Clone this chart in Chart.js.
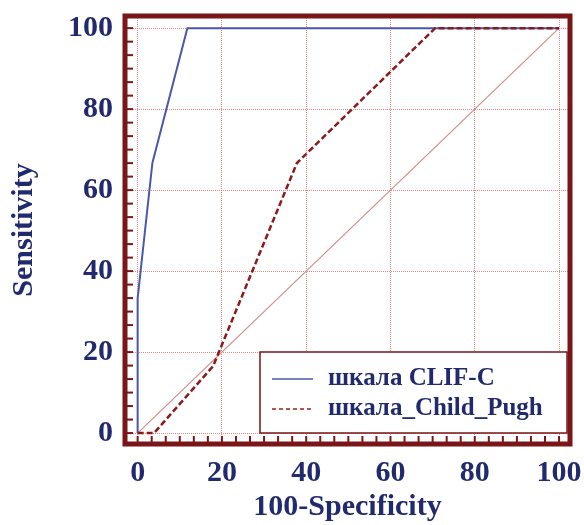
<!DOCTYPE html>
<html>
<head>
<meta charset="utf-8">
<script src="https://cdn.jsdelivr.net/npm/chart.js@4/dist/chart.umd.min.js"></script>
<style>
  body { margin: 0; background: #fff; }
  #wrap { width: 584px; height: 525px; }
</style>
</head>
<body>
<div id="wrap"><canvas id="rocChart" width="584" height="525"></canvas></div>
<script>
// data
const clifX = [0, 0, 3.5, 11.8, 100]
const clifY = [0, 33.3, 66.7, 100, 100]
const childX = [0, 3.9, 17.9, 37.8, 70.6, 100]
const childY = [0, 0, 16.5, 66.7, 100, 100]
const diagX = [0, 100]
const diagY = [0, 100]
const xTicks = [0, 20, 40, 60, 80, 100]
const yTicks = [0, 20, 40, 60, 80, 100]
const labels = ['шкала CLIF-C', 'шкала_Child_Pugh']

const navy = '#222a6e'
const frameRed = '#7a1518'
const gridRed = 'rgba(230,80,80,0.7)'
const font = "'Liberation Serif', 'Times New Roman', serif"

function pts(xs, ys) {
    let out = []
    for (let i = 0; i < xs.length; i++) out.push({ x: xs[i], y: ys[i] })
    return out
}

// thick frame + small inward ticks on left and bottom
const framePlugin = {
    id: 'frame',
    afterDraw(chart) {
        const { ctx, chartArea: a } = chart
        const xs = chart.scales.x, ys = chart.scales.y
        ctx.save()
        ctx.strokeStyle = frameRed
        ctx.lineWidth = 2
        for (let k = 0; k <= 30; k++) {
            const v = k * 10 / 3
            const px = xs.getPixelForValue(v)
            ctx.beginPath(); ctx.moveTo(px, a.bottom); ctx.lineTo(px, a.bottom - 8); ctx.stroke()
            const py = ys.getPixelForValue(v)
            ctx.beginPath(); ctx.moveTo(a.left, py); ctx.lineTo(a.left + 8, py); ctx.stroke()
        }
        ctx.lineWidth = 5
        ctx.strokeRect(a.left, a.top, a.right - a.left, a.bottom - a.top)
        ctx.restore()
    }
}

// boxed legend in the lower right corner of the plot
const boxLegend = {
    id: 'boxLegend',
    afterDatasetsDraw(chart) {
        const { ctx, chartArea: a } = chart
        const bx = a.left + 135, by = a.bottom - 92, bw = a.right - 3 - bx, bh = 81
        ctx.save()
        ctx.fillStyle = '#fff'
        ctx.fillRect(bx, by, bw, bh)
        ctx.strokeStyle = frameRed
        ctx.lineWidth = 1.5
        ctx.strokeRect(bx, by, bw, bh)
        const rows = [
            { color: '#4b57a8', dash: [], y: by + 27 },
            { color: '#a01c1c', dash: [4, 3], y: by + 57 }
        ]
        rows.forEach((r, i) => {
            ctx.strokeStyle = r.color
            ctx.lineWidth = 1.5
            ctx.setLineDash(r.dash)
            ctx.beginPath(); ctx.moveTo(bx + 12, r.y); ctx.lineTo(bx + 53, r.y); ctx.stroke()
            ctx.setLineDash([])
            ctx.fillStyle = navy
            ctx.font = 'bold 25px ' + font
            ctx.textBaseline = 'middle'
            ctx.fillText(labels[i], bx + 68, r.y)
        })
        ctx.restore()
    }
}

const rocChart = new Chart(document.getElementById('rocChart'), {
    type: 'scatter',
    data: {
        datasets: [{
            label: labels[1],
            data: pts(childX, childY),
            showLine: true,
            borderColor: '#8b1a1a',
            borderWidth: 2.5,
            borderDash: [6, 3],
            pointRadius: 0,
            order: 1
        }, {
            label: labels[0],
            data: pts(clifX, clifY),
            showLine: true,
            borderColor: '#4b57a8',
            borderWidth: 2,
            pointRadius: 0,
            order: 2
        }, {
            label: 'diag',
            data: pts(diagX, diagY),
            showLine: true,
            borderColor: '#d08c8c',
            borderWidth: 1.2,
            pointRadius: 0,
            order: 3
        }]
    },
    options: {
        responsive: false,
        animation: false,
        layout: { padding: { top: 16, right: 14, left: 0, bottom: 0 } },
        plugins: { legend: { display: false }, tooltip: { enabled: false } },
        scales: {
            x: {
                min: -3, max: 102.6,
                afterBuildTicks: s => { s.ticks = xTicks.map(v => ({ value: v })) },
                afterFit: s => { s.height = 81; s.paddingLeft = 0; s.paddingRight = 0 },
                grid: { color: gridRed, lineWidth: 1, drawTicks: false },
                border: { display: false, dash: [1, 1] },
                ticks: { padding: 11, maxRotation: 0, autoSkip: false, color: navy, font: { family: font, size: 30, weight: 'bold' } },
                title: { display: true, text: '100-Specificity', color: navy, padding: { top: 0, bottom: 0 }, font: { family: font, size: 30, weight: 'bold' } }
            },
            y: {
                min: -2.7, max: 103,
                afterBuildTicks: s => { s.ticks = yTicks.map(v => ({ value: v })) },
                afterFit: s => { s.width = 125; s.paddingTop = 0; s.paddingBottom = 0 },
                grid: { color: gridRed, lineWidth: 1, drawTicks: false },
                border: { display: false, dash: [1, 1] },
                ticks: { padding: 12, autoSkip: false, color: navy, font: { family: font, size: 30, weight: 'bold' } },
                title: { display: true, text: 'Sensitivity', color: navy, padding: { top: 6, bottom: 0 }, font: { family: font, size: 30, weight: 'bold' } }
            }
        }
    },
    plugins: [framePlugin, boxLegend]
})
</script>
</body>
</html>
